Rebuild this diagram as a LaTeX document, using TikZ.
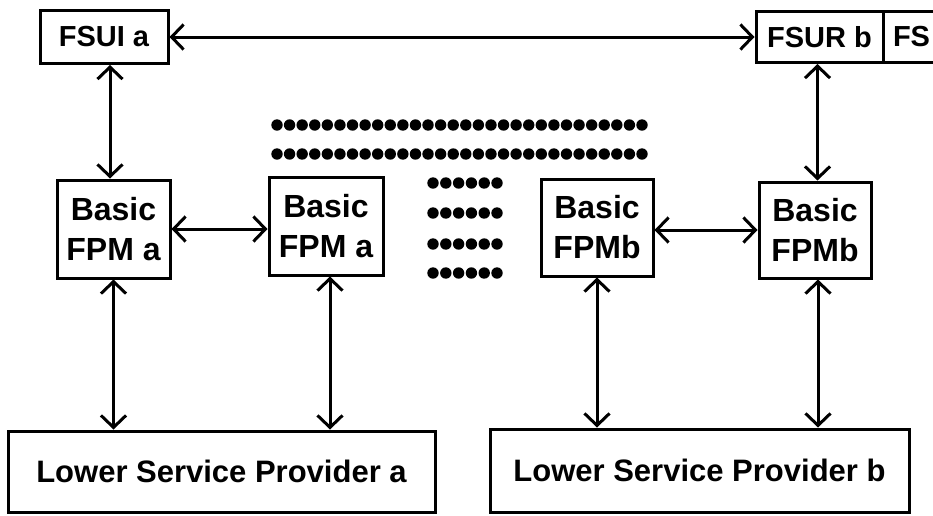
\documentclass[tikz,border=0pt]{standalone}
\usepackage{fontspec}
\setmainfont{Liberation Sans}
\usetikzlibrary{arrows.meta}
\begin{document}
\begin{tikzpicture}[x=1pt,y=-1pt,
  box/.style={draw, line width=3pt, inner sep=0pt, align=center,
    font=\bfseries\fontsize{32}{40}\selectfont},
  topbox/.style={box, font=\bfseries\fontsize{29}{34}\selectfont},
  lowbox/.style={box, font=\bfseries\fontsize{31}{36}\selectfont},
  barb/.tip={Straight Barb[length=12pt,width=25pt]},
  link/.style={line width=3pt, line join=round, line cap=round, barb-barb}]
\clip (0,0) rectangle (933,515);

% service users (the neighbouring box shares its left edge with FSUR b)
\node[topbox, minimum width=128pt, minimum height=53pt] (fsui) at (104,37) {FSUI a};
\node[topbox, minimum width=127pt, minimum height=51pt] (fsur) at (819.5,37) {FSUR b};
\node[topbox, minimum height=51pt, text width=100pt, align=left,
      inner xsep=10pt, anchor=west] (fs) at ([xshift=-3pt]fsur.east) {FS};

% protocol machines
\node[box, minimum width=113pt, minimum height=98pt] (pa1) at (113.5,229) {Basic\\FPM a};
\node[box, minimum width=114pt, minimum height=98pt] (pa2) at (326,226) {Basic\\FPM a};
\node[box, minimum width=112pt, minimum height=97pt] (pb1) at (597,227.5) {Basic\\FPMb};
\node[box, minimum width=112pt, minimum height=96pt] (pb2) at (815,230) {Basic\\FPMb};

% lower service providers
\node[lowbox, minimum width=427pt, minimum height=81pt] (lpa) at (221.5,471.5) {Lower Service Provider a};
\node[lowbox, minimum width=419pt, minimum height=83pt] (lpb) at (699.5,470.5) {Lower Service Provider b};

% connections
\draw[link] (fsui.east) -- (fsur.west);
\draw[link] ([xshift=6pt]fsui.south) -- ([xshift=6pt]fsui.south |- pa1.north);
\draw[link] ([xshift=-2pt]fsur.south) -- ([xshift=-2pt]fsur.south |- pb2.north);
\draw[link] (pa1.east) -- (pa1.east -| pa2.west);
\draw[link] (pb2.west -| pb1.east) -- (pb2.west);
\draw[link] (pa1.south) -- (pa1.south |- lpa.north);
\draw[link] ([xshift=4pt]pa2.south) -- ([xshift=4pt]pa2.south |- lpa.north);
\draw[link] (pb1.south) -- (pb1.south |- lpb.north);
\draw[link] ([xshift=3pt]pb2.south) -- ([xshift=3pt]pb2.south |- lpb.north);

% ellipsis dots
\foreach \i in {0,...,29} {
  \fill (277+\i*12.586,125) circle (5.7pt);
  \fill (277+\i*12.586,154) circle (5.7pt);
}
\foreach \r in {183,213,244,273}
  \foreach \i in {0,...,5}
    \fill (433+\i*12.8,\r) circle (5.7pt);
\end{tikzpicture}
\end{document}
